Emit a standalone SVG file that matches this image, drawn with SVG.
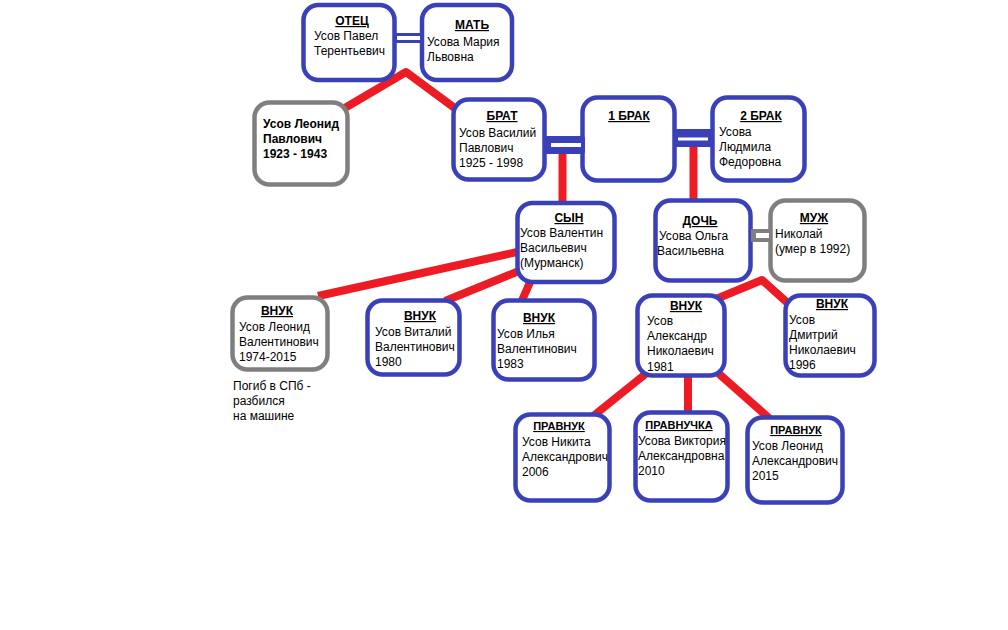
<svg xmlns="http://www.w3.org/2000/svg" width="1008" height="630" viewBox="0 0 1008 630">
<style>
.box{fill:#fff;stroke:#3a40b8;stroke-width:4.5}
.grey{stroke:#7f7f7f}
.link{stroke:#ed1c24;stroke-width:8;fill:none;stroke-linejoin:round}
text{font-family:"Liberation Sans",Arial,sans-serif;font-size:12px;fill:#000}
.t{font-weight:bold;text-decoration:underline;text-anchor:middle}
.s{font-size:11px}
.b{font-weight:bold}
.bar{fill:#3a40b8}
.gbar{fill:#7f7f7f}
.w{fill:#fff}
</style>
<rect width="1008" height="630" fill="#fff"/>
<g id="connectors">
<polyline class="link" points="338,112 406,72 460,112"/>
<line class="link" x1="562.5" y1="150" x2="562.5" y2="205"/>
<line class="link" x1="693.5" y1="145" x2="693.5" y2="202"/>
<line class="link" x1="517" y1="252" x2="318" y2="296"/>
<line class="link" x1="519" y1="271" x2="445" y2="301"/>
<line class="link" x1="531" y1="280" x2="520" y2="305"/>
<polyline class="link" points="716,299 762,280 791,306"/>
<line class="link" x1="648" y1="372" x2="592" y2="417"/>
<line class="link" x1="688" y1="376" x2="688" y2="414"/>
<line class="link" x1="718" y1="373" x2="770" y2="419"/>
</g>
<g id="otec">
<rect class="box" x="303.5" y="5" width="91" height="75" rx="15"/>
<text class="t" x="352" y="25">ОТЕЦ</text>
<text x="314" y="40">Усов Павел</text>
<text x="314" y="55">Терентьевич</text>
</g>
<g id="mat">
<rect class="box" x="422" y="5" width="90" height="75" rx="15"/>
<text class="t" x="472" y="29">МАТЬ</text>
<text x="427" y="46">Усова Мария</text>
<text x="427" y="61">Львовна</text>
</g>
<g id="marriage-parents">
<rect class="bar" x="394" y="33" width="29" height="10"/>
<rect class="w" x="397" y="36" width="23" height="4"/>
</g>
<g id="leonid-pavlovich">
<rect class="box grey" x="254.5" y="102.5" width="93" height="82" rx="15"/>
<text class="b" x="263" y="128">Усов Леонид</text>
<text class="b" x="263" y="143">Павлович</text>
<text class="b" x="263" y="158">1923 - 1943</text>
</g>
<g id="brat">
<rect class="box" x="453.5" y="99.5" width="91" height="80" rx="15"/>
<text class="t" x="502" y="120">БРАТ</text>
<text x="459" y="137">Усов Василий</text>
<text x="459" y="152">Павлович</text>
<text x="459" y="167">1925 - 1998</text>
</g>
<g id="brak1">
<rect class="box" x="582.5" y="97.5" width="92" height="83" rx="15"/>
<text class="t" x="629" y="120">1 БРАК</text>
</g>
<g id="brak2">
<rect class="box" x="712.5" y="97.5" width="92" height="83" rx="15"/>
<text class="t" x="761" y="120">2 БРАК</text>
<text x="719" y="136">Усова</text>
<text x="719" y="151">Людмила</text>
<text x="719" y="166">Федоровна</text>
</g>
<g id="marriage-brat">
<rect class="bar" x="544" y="136" width="41" height="18" rx="3"/>
<rect class="w" x="551" y="143" width="30" height="4"/>
</g>
<g id="marriage-brak">
<rect class="bar" x="674" y="129" width="40" height="18" rx="3"/>
<rect class="w" x="678" y="137.5" width="30" height="3"/>
</g>
<g id="syn">
<rect class="box" x="517.5" y="203" width="97" height="79" rx="15"/>
<text class="t" x="569" y="222">СЫН</text>
<text x="520" y="237">Усов Валентин</text>
<text x="520" y="252">Васильевич</text>
<text x="520" y="267">(Мурманск)</text>
</g>
<g id="doch">
<rect class="box" x="655.5" y="200.5" width="95" height="80" rx="15"/>
<text class="t" x="700" y="225">ДОЧЬ</text>
<text x="659" y="240">Усова Ольга</text>
<text x="657" y="255">Васильевна</text>
</g>
<g id="muzh">
<rect class="box grey" x="770.5" y="200.5" width="94" height="80" rx="15"/>
<text class="t" x="814" y="222">МУЖ</text>
<text x="775" y="238">Николай</text>
<text x="775" y="253">(умер в 1992)</text>
</g>
<g id="marriage-doch">
<rect class="gbar" x="751" y="229" width="21" height="13"/>
<rect class="w" x="756" y="233" width="13" height="5"/>
</g>
<g id="vnuk-leonid">
<rect class="box grey" x="232.5" y="297.5" width="95" height="72" rx="15"/>
<text class="t" x="277" y="315">ВНУК</text>
<text x="239" y="331">Усов Леонид</text>
<text x="239" y="346">Валентинович</text>
<text x="239" y="361">1974-2015</text>
<text x="233" y="390">Погиб в СПб -</text>
<text x="233" y="405">разбился</text>
<text x="233" y="420">на машине</text>
</g>
<g id="vnuk-vitaly">
<rect class="box" x="367.5" y="300.5" width="92" height="74" rx="15"/>
<text class="t" x="420" y="320">ВНУК</text>
<text x="375" y="336">Усов Виталий</text>
<text x="375" y="351">Валентинович</text>
<text x="375" y="366">1980</text>
</g>
<g id="vnuk-ilya">
<rect class="box" x="493.5" y="300.5" width="101" height="79" rx="15"/>
<text class="t" x="539" y="322">ВНУК</text>
<text x="497" y="338">Усов Илья</text>
<text x="497" y="353">Валентинович</text>
<text x="497" y="368">1983</text>
</g>
<g id="vnuk-alexandr">
<rect class="box" x="637.5" y="295.5" width="87" height="80" rx="15"/>
<text class="t" x="686" y="310">ВНУК</text>
<text x="647" y="325">Усов</text>
<text x="647" y="340">Александр</text>
<text x="647" y="355">Николаевич</text>
<text x="647" y="371">1981</text>
</g>
<g id="vnuk-dmitry">
<rect class="box" x="785.5" y="295.5" width="89" height="80" rx="15"/>
<text class="t" x="832" y="308">ВНУК</text>
<text x="789" y="324">Усов</text>
<text x="789" y="339">Дмитрий</text>
<text x="789" y="354">Николаевич</text>
<text x="789" y="369">1996</text>
</g>
<g id="pravnuk-nikita">
<rect class="box" x="515.5" y="414.5" width="94" height="86" rx="15"/>
<text class="t s" x="559" y="430">ПРАВНУК</text>
<text x="522" y="446">Усов Никита</text>
<text x="522" y="461">Александрович</text>
<text x="522" y="476">2006</text>
</g>
<g id="pravnuchka">
<rect class="box" x="635.5" y="412.5" width="92" height="88" rx="15"/>
<text class="t s" x="679" y="429">ПРАВНУЧКА</text>
<text x="638" y="445">Усова Виктория</text>
<text x="638" y="460">Александровна</text>
<text x="638" y="475">2010</text>
</g>
<g id="pravnuk-leonid">
<rect class="box" x="747.5" y="417.5" width="95" height="85" rx="15"/>
<text class="t s" x="796" y="434">ПРАВНУК</text>
<text x="752" y="450">Усов Леонид</text>
<text x="752" y="465">Александрович</text>
<text x="752" y="480">2015</text>
</g>
</svg>
